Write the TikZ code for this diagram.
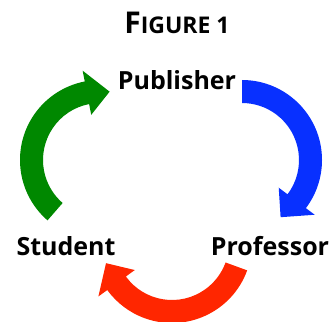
\documentclass[tikz,border=0pt]{standalone}
\usepackage{fontspec}
\setmainfont{Open Sans}
\usepackage{tikz}
\usetikzlibrary{calc}
\definecolor{cyclegreen}{RGB}{0,136,0}
\definecolor{cycleblue}{RGB}{8,48,255}
\definecolor{cyclered}{RGB}{255,38,0}

\begin{document}
\begin{tikzpicture}[x=1pt,y=1pt,
    role/.style={font=\fontsize{25}{30}\selectfont\bfseries,inner sep=0pt,anchor=base}]
    \useasboundingbox (0,0) rectangle (336,321);
    \node[anchor=base,inner sep=0pt] (title) at (177,287) {\bfseries\fontsize{30}{36}\selectfont F\fontsize{23}{28}\selectfont IGURE 1};
    \node[role] (pub) at (177,231) {Publisher};
    \node[role] (stu) at (66,66) {Student};
    \node[role] (prof) at (270,66) {Professor};
    \coordinate (cg) at (100,161);
    \coordinate (cb) at (242,161);
    \coordinate (cr) at (172,78);
    % student -> publisher
    \fill[cyclegreen] ($(cg)+(229:80)$) arc[start angle=229,end angle=101,radius=80] -- ($(cg)+(101:91)$) -- ($(cg)+(82:69)$) -- ($(cg)+(101:46)$) -- ($(cg)+(101:57)$) arc[start angle=101,end angle=229,radius=57] -- cycle;
    % publisher -> professor
    \fill[cycleblue] ($(cb)+(90:80)$) arc[start angle=90,end angle=-37,radius=80] -- ($(cb)+(-37:91)$) -- ($(cb)+(-56:69)$) -- ($(cb)+(-37:46)$) -- ($(cb)+(-37:57)$) arc[start angle=-37,end angle=90,radius=57] -- cycle;
    % professor -> student
    \fill[cyclered] ($(cr)+(-20:80)$) arc[start angle=-20,end angle=-144,radius=80] -- ($(cr)+(-144:91)$) -- ($(cr)+(-163:69)$) -- ($(cr)+(-144:46)$) -- ($(cr)+(-144:57)$) arc[start angle=-144,end angle=-20,radius=57] -- cycle;
\end{tikzpicture}
\end{document}
